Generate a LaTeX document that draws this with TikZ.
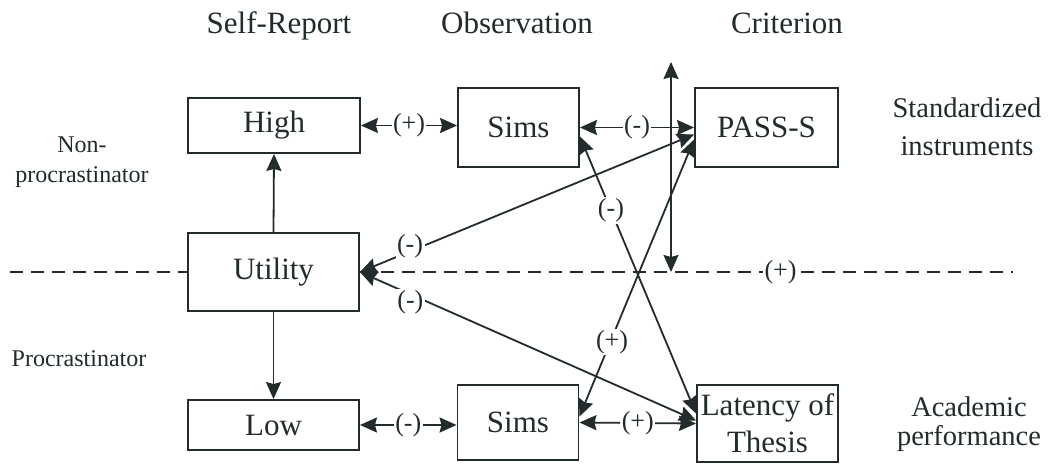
\documentclass[tikz,border=0pt]{standalone}
\usepackage{fontspec}
\setmainfont{Liberation Serif}
\usetikzlibrary{arrows.meta}
\definecolor{ink}{RGB}{34,44,44}
\begin{document}
\begin{tikzpicture}[x=1pt,y=-1pt,
  every node/.style={text=ink},
  box/.style={draw=ink, line width=1.9pt, inner sep=0pt, align=center,
    font=\fontsize{31}{37}\selectfont},
  hdr/.style={font=\fontsize{31}{36}\selectfont, anchor=base},
  lside/.style={font=\fontsize{24}{30}\selectfont, align=center},
  rsideA/.style={font=\fontsize{28.5}{38}\selectfont, align=center},
  rsideB/.style={font=\fontsize{28.5}{29}\selectfont, align=center},
  conn/.style={draw=ink, line width=1.8pt},
  both/.style={conn, {Stealth[length=17pt,width=15pt,inset=2pt]}-{Stealth[length=17pt,width=15pt,inset=2pt]}},
  one/.style={conn, -{Stealth[length=17pt,width=15pt,inset=2pt]}},
  dashline/.style={draw=ink, line width=1.8pt, dash pattern=on 13pt off 8pt},
  lbl/.style={fill=white, inner sep=1.5pt, font=\fontsize{26}{26}\selectfont}]
\useasboundingbox[fill=white] (0,0) rectangle (1058,464);

% headers
\node[hdr] (hSR) at (279,33) {Self-Report};
\node[hdr] (hOb) at (517,33) {Observation};
\node[hdr] (hCr) at (787,33) {Criterion};

% side labels
\node[lside] (nonp) at (82,162) {Non-\\procrastinator};
\node[lside, anchor=base] (proc) at (79,366) {Procrastinator};
\node[rsideA] (std) at (967,127) {Standardized\\instruments};
\node[rsideB] (acad) at (969,424) {Academic\\performance};

% boxes
\node[box, minimum width=172pt, minimum height=55pt] (High) at (274,125.5) {High};
\node[box, minimum width=171pt, minimum height=78pt] (Util) at (273.5,272) {Utility};
\node[box, minimum width=171pt, minimum height=50pt] (Low) at (273.5,425) {Low};
\node[box, minimum width=121pt, minimum height=79pt] (SimsT) at (518.5,127.5) {Sims};
\node[box, minimum width=143pt, minimum height=79pt] (PASS) at (766.5,127.5) {PASS-S};
\node[box, minimum width=121pt, minimum height=75pt] (SimsB) at (518,422.5) {Sims};
\node[box, minimum width=141pt, minimum height=77pt] (Lat) at (767.5,423.5) {Latency of\\Thesis};

% free ends
\coordinate (dl) at (10,272);
\coordinate (dr) at (1013,272);
\coordinate (vtop) at (671,62);
\coordinate (vbot) at (671,272);

% dashed divider
\draw[dashline] (dl) -- (Util.west);
\draw[dashline] (Util.east) -- (dr) node[lbl, pos=0.644] {(+)};

% vertical arrows in self-report column
\draw[one] (Util.north) -- (High.south);
\draw[one] (Util.south) -- (Low.north);

% vertical double arrow
\draw[both] (vtop) -- (vbot);

% horizontal connectors
\draw[both] (High.east) -- (High.east -| SimsT.west) node[lbl, midway] {(+)};
\draw[both] (SimsT.east) -- (PASS.west) node[lbl, midway] {(-)};
\draw[both] (Low.east) -- (Low.east -| SimsB.west) node[lbl, midway] {(-)};
\draw[both] (SimsB.east) -- (Lat.west) node[lbl, midway] {(+)};

% diagonal connectors
\draw[both] ([yshift=-7pt]PASS.west) -- (Util.east) node[lbl, pos=0.85, yshift=5pt] {(-)};
\draw[both] (Util.east) -- ([yshift=3pt]Lat.west) node[lbl, pos=0.15, yshift=-8pt] {(-)};
\draw[both] ([yshift=-9pt]SimsT.east) -- ([yshift=10pt]Lat.west) node[lbl, pos=0.267] {(-)};
\draw[both] ([yshift=-12pt]PASS.west) -- ([yshift=6pt]SimsB.east) node[lbl, pos=0.716, yshift=-4pt] {(+)};
\end{tikzpicture}
\end{document}
